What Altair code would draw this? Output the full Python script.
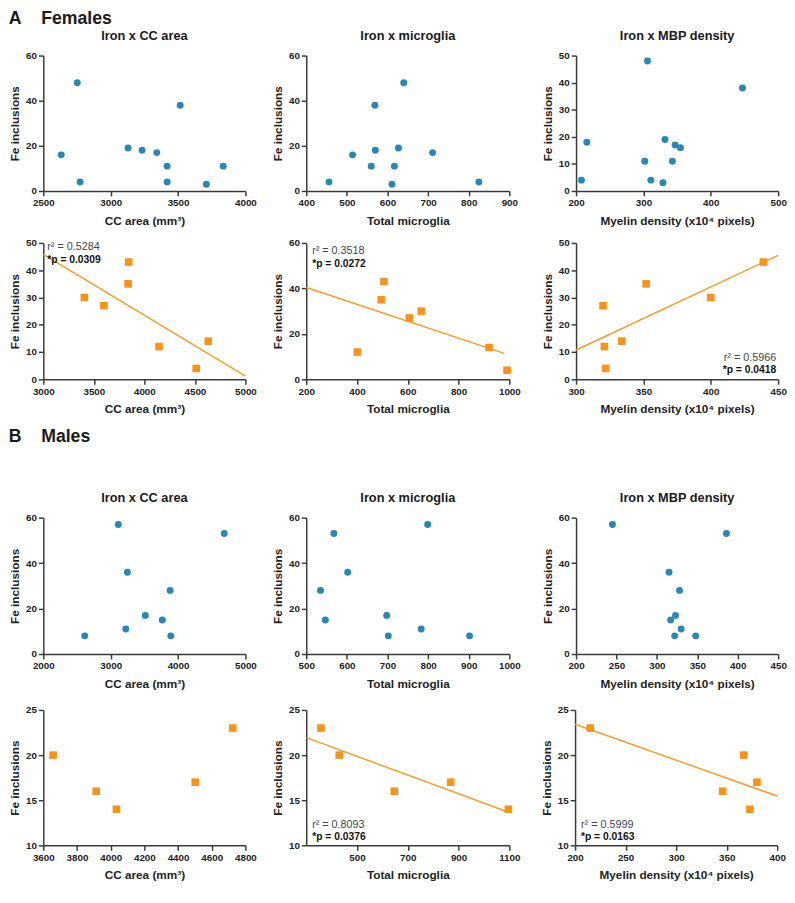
import altair as alt
import pandas as pd

FONT = "Liberation Sans"
BLUE = "#2a87b3"
ORANGE = "#f6921e"
LINE = "#f39c33"

# ---------------- data ----------------
# Females, row 1 (blue circles)
F1_X = [2633, 2752, 2773, 3129, 3233, 3342, 3419, 3419, 3516, 3710, 3835]
F1_Y = [16, 48, 4, 19, 18, 17, 11, 4, 38, 3, 11]
F2_X = [456, 514, 560, 569, 570, 611, 617, 627, 640, 711, 825]
F2_Y = [4, 16, 11, 38, 18, 3, 11, 19, 48, 17, 4]
F3_X = [208, 216, 302, 306, 311, 329, 332, 343, 347, 355, 447]
F3_Y = [4, 18, 11, 48, 4, 3, 19, 11, 17, 16, 38]
# Females, row 2 (orange squares)
F4_X = [3406, 3600, 3845, 3839, 4145, 4632, 4513]
F4_Y = [30, 27, 43, 35, 12, 14, 4]
F5_X = [401, 495, 506, 606, 653, 920, 991]
F5_Y = [12, 35, 43, 27, 30, 14, 4]
F6_X = [320, 321, 322, 334, 352, 400, 439]
F6_Y = [27, 12, 4, 14, 35, 30, 43]
# Males, row 1 (blue circles)
M1_X = [3113, 4685, 3248, 3882, 3514, 3766, 3224, 2614, 3892]
M1_Y = [57, 53, 36, 28, 17, 15, 11, 8, 8]
M2_X = [568, 799, 602, 535, 547, 698, 702, 783, 902]
M2_Y = [53, 57, 36, 28, 15, 17, 8, 11, 8]
M3_X = [245, 386, 315, 328, 323, 317, 330, 322, 348]
M3_Y = [57, 53, 36, 28, 17, 15, 11, 8, 8]
# Males, row 2 (orange squares)
M4_X = [3658, 3914, 4034, 4502, 4725]
M4_Y = [20, 16, 14, 17, 23]
M5_X = [358, 430, 647, 869, 1096]
M5_Y = [23, 20, 16, 17, 14]
M6_X = [215, 367, 346, 380, 373]
M6_Y = [23, 20, 16, 17, 14]

PANEL_TITLES = ["Iron x CC area", "Iron x microglia", "Iron x MBP density"]
X_TITLES = ["CC area (mm\u00b3)", "Total microglia", "Myelin density (x10\u2074 pixels)"]
Y_TITLE = "Fe inclusions"
SECTIONS = ["A\u00a0\u00a0\u00a0\u00a0Females", "B\u00a0\u00a0\u00a0\u00a0Males"]

R2_TEXT = {"F4": "r\u00b2 = 0.5284", "F5": "r\u00b2 = 0.3518", "F6": "r\u00b2 = 0.5966",
           "M5": "r\u00b2 = 0.8093", "M6": "r\u00b2 = 0.5999"}
P_TEXT = {"F4": "*p = 0.0309", "F5": "*p = 0.0272", "F6": "*p = 0.0418",
          "M5": "*p = 0.0376", "M6": "*p = 0.0163"}


def panel(xs, ys, xdom, xticks, ydom, yticks, xtitle, kind, w, h,
          title=None, extent=None, ann=None):
    df = pd.DataFrame({"x": xs, "y": ys})
    base = alt.Chart(df)
    x = alt.X("x:Q", scale=alt.Scale(domain=xdom, nice=False, zero=False),
              axis=alt.Axis(values=xticks, title=xtitle, format="d"))
    y = alt.Y("y:Q", scale=alt.Scale(domain=ydom, nice=False, zero=False),
              axis=alt.Axis(values=yticks, title=Y_TITLE, format="d"))
    layers = []
    if extent is not None:
        layers.append(
            base.transform_regression("x", "y", extent=extent)
            .mark_line(color=LINE, strokeWidth=1.5)
            .encode(x=x, y=y)
        )
    if kind == "circle":
        layers.append(base.mark_circle(size=50, color=BLUE, opacity=1).encode(x=x, y=y))
    else:
        layers.append(base.mark_square(size=60, color=ORANGE, opacity=1).encode(x=x, y=y))
    if ann is not None:
        key, ax, ay, align = ann
        layers.append(
            alt.Chart(pd.DataFrame({"t": [R2_TEXT[key]]}))
            .mark_text(align=align, baseline="middle", font=FONT, fontSize=11, color="#444444")
            .encode(text="t:N", x=alt.value(ax), y=alt.value(ay))
        )
        layers.append(
            alt.Chart(pd.DataFrame({"t": [P_TEXT[key]]}))
            .mark_text(align=align, baseline="middle", font=FONT, fontSize=10.5,
                       fontWeight="bold", color="#111111")
            .encode(text="t:N", x=alt.value(ax), y=alt.value(ay + 13))
        )
    ch = alt.layer(*layers).properties(width=w, height=h)
    if title:
        ch = ch.properties(title=alt.TitleParams(title, offset=8))
    return ch


W1, W2, W3 = 206, 207, 206

f1 = panel(F1_X, F1_Y, [2500, 4000], [2500, 3000, 3500, 4000], [0, 60], [0, 20, 40, 60],
           X_TITLES[0], "circle", W1, 138, title=PANEL_TITLES[0])
f2 = panel(F2_X, F2_Y, [400, 900], [400, 500, 600, 700, 800, 900], [0, 60], [0, 20, 40, 60],
           X_TITLES[1], "circle", W2, 138, title=PANEL_TITLES[1])
f3 = panel(F3_X, F3_Y, [200, 500], [200, 300, 400, 500], [0, 50], [0, 10, 20, 30, 40, 50],
           X_TITLES[2], "circle", W3, 138, title=PANEL_TITLES[2])
f4 = panel(F4_X, F4_Y, [3000, 5000], [3000, 3500, 4000, 4500, 5000], [0, 50], [0, 10, 20, 30, 40, 50],
           X_TITLES[0], "square", W1, 139, extent=[3000, 5000], ann=("F4", 4, 4, "left"))
f5 = panel(F5_X, F5_Y, [200, 1000], [200, 400, 600, 800, 1000], [0, 60], [0, 20, 40, 60],
           X_TITLES[1], "square", W2, 139, extent=[200, 980], ann=("F5", 6, 8, "left"))
f6 = panel(F6_X, F6_Y, [300, 450], [300, 350, 400, 450], [0, 50], [0, 10, 20, 30, 40, 50],
           X_TITLES[2], "square", W3, 139, extent=[300, 450], ann=("F6", 204, 117, "right"))

m1 = panel(M1_X, M1_Y, [2000, 5000], [2000, 3000, 4000, 5000], [0, 60], [0, 20, 40, 60],
           X_TITLES[0], "circle", W1, 139, title=PANEL_TITLES[0])
m2 = panel(M2_X, M2_Y, [500, 1000], [500, 600, 700, 800, 900, 1000], [0, 60], [0, 20, 40, 60],
           X_TITLES[1], "circle", W2, 139, title=PANEL_TITLES[1])
m3 = panel(M3_X, M3_Y, [200, 450], [200, 250, 300, 350, 400, 450], [0, 60], [0, 20, 40, 60],
           X_TITLES[2], "circle", W3, 139, title=PANEL_TITLES[2])
m4 = panel(M4_X, M4_Y, [3600, 4800], [3600, 3800, 4000, 4200, 4400, 4600, 4800], [10, 25], [10, 15, 20, 25],
           X_TITLES[0], "square", W1, 138)
m5 = panel(M5_X, M5_Y, [300, 1100], [500, 700, 900, 1100], [10, 25], [10, 15, 20, 25],
           X_TITLES[1], "square", W2, 138, extent=[300, 1100], ann=("M5", 6, 117, "left"))
m6 = panel(M6_X, M6_Y, [200, 400], [200, 250, 300, 350, 400], [10, 25], [10, 15, 20, 25],
           X_TITLES[2], "square", W3, 138, extent=[200, 400], ann=("M6", 6, 117, "left"))


def row(a, b, c, gap2=20):
    return alt.hconcat(alt.hconcat(a, b, spacing=14), c, spacing=gap2)


female = alt.vconcat(row(f1, f2, f3, 23), row(f4, f5, f6), spacing=12,
                     title=alt.TitleParams(SECTIONS[0], anchor="start", fontSize=18, offset=2))
male = alt.vconcat(row(m1, m2, m3), row(m4, m5, m6), spacing=16,
                   title=alt.TitleParams(SECTIONS[1], anchor="start", fontSize=18, offset=47))

chart = (
    alt.vconcat(female, male, spacing=14)
    .properties(padding={"top": -6, "left": 0, "right": 0, "bottom": 0})
    .configure_view(stroke=None)
    .configure_axis(domainColor="#3a3a3a", domainWidth=1.5, tickColor="#3a3a3a", tickWidth=1.5,
                    tickSize=5, labelFont=FONT, labelFontSize=10, labelFontWeight="bold",
                    labelColor="#222222", labelFlush=False, labelOverlap=False,
                    titleFont=FONT, titleFontSize=12, titleFontWeight="bold", titleColor="#222222",
                    grid=False)
    .configure_axisX(labelPadding=2, titlePadding=8)
    .configure_axisY(labelPadding=2, titlePadding=4)
    .configure_title(font=FONT, fontWeight="bold", fontSize=13, color="#1a1a1a")
)

chart.save("out.html", embed_options={"renderer": "svg", "actions": False})
